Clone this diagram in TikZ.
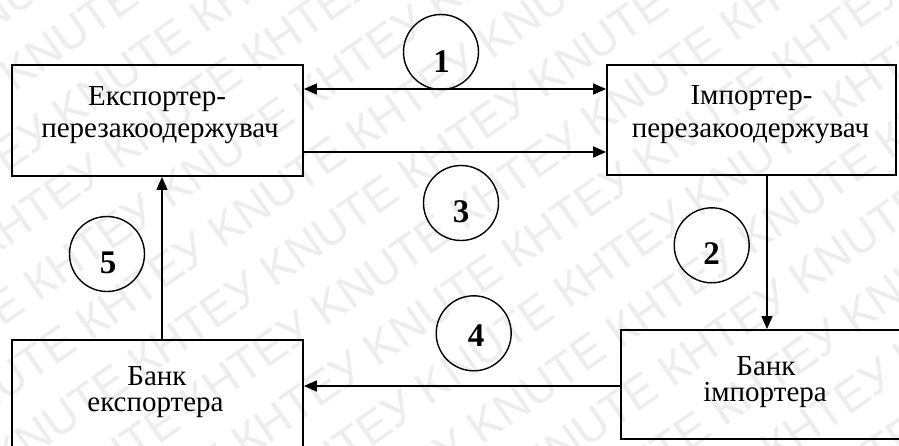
\documentclass[tikz,border=0pt]{standalone}
\usepackage{fontspec}
\setmainfont{Liberation Serif}
\newfontfamily\wmfont{Liberation Sans}
\usetikzlibrary{arrows.meta,calc}
\begin{document}
\begin{tikzpicture}[x=1pt,y=-1pt,
  box/.style={draw,line width=1.8pt,inner sep=0pt,rectangle},
  lbl/.style={anchor=base,inner sep=0pt,font=\fontsize{29}{32}\selectfont},
  num/.style={circle,draw,line width=1.4pt,minimum size=75pt,inner sep=0pt},
  numtxt/.style={anchor=base,inner sep=0pt,font=\fontsize{33}{34}\selectfont\bfseries},
  conn/.style={line width=1.4pt},
  tip/.style={-{Triangle[length=13pt,width=11pt]}},
  tiptwo/.style={{Triangle[length=13pt,width=11pt]}-{Triangle[length=13pt,width=11pt]}},
  wm/.style={rotate=35,anchor=center,inner sep=0pt,text=black!7,font=\wmfont\fontsize{46}{50}\selectfont}]
\useasboundingbox (0,0) rectangle (899,445);
\fill[white] (0,0) rectangle (899,445);
\begin{scope}
\clip (0,0) rectangle (899,445);
\foreach \k in {-7,...,7} {
  \node[wm] (wm\k) at ({450+\k*62*0.574+\k*20*0.819},{222+\k*62*0.819-\k*20*0.574}) {КНТЕУ KNUTE КНТЕУ KNUTE КНТЕУ KNUTE КНТЕУ KNUTE};
}
\end{scope}
% boxes
\node[box,minimum width=291pt,minimum height=111pt] (tl) at (157.5,120.5) {};
\node[box,minimum width=289pt,minimum height=110pt] (tr) at (751.5,120) {};
\node[box,minimum width=291pt,minimum height=110pt] (bl) at (157.5,395) {};
\node[box,minimum width=292pt,minimum height=109pt] (br) at (767,384.5) {};
% texts
\node[lbl] (tl1) at (157,105) {Експортер-};
\node[lbl] (tl2) at (160,137) {перезакоодержувач};
\node[lbl] (tr1) at (751.5,104) {Імпортер-};
\node[lbl] (tr2) at (750.5,137) {перезакоодержувач};
\node[lbl] (bl1) at (157,385) {Банк};
\node[lbl] (bl2) at (155.5,411) {експортера};
\node[lbl] (br1) at (766,375) {Банк};
\node[lbl] (br2) at (765,401) {імпортера};
% numbered circles
\node[num] (c1) at (441,52) {};
\node[numtxt] (n1) at (441.5,72) {1};
\node[num] (c3) at (461,203) {};
\node[numtxt] (n3) at (461,222.7) {3};
\node[num] (c5) at (107,254) {};
\node[numtxt] (n5) at (108,273) {5};
\node[num] (c2) at (711.7,245.3) {};
\node[numtxt] (n2) at (711.7,264) {2};
\node[num] (c4) at (473.7,333.3) {};
\node[numtxt] (n4) at (476,346.7) {4};
% connectors
\coordinate (a1) at ([yshift=31.5pt]tl.east);
\draw[conn,tiptwo] (a1) -- (a1 -| tr.west);
\coordinate (a3) at ([yshift=-31.5pt]tl.east);
\draw[conn,tip] (a3) -- (a3 -| tr.west);
\draw[conn,tip] (br.north |- tr.south) -- (br.north);
\coordinate (a4) at ([yshift=-1.5pt]br.west);
\draw[conn,tip] (a4) -- (a4 -| bl.east);
\coordinate (a5) at ([xshift=4.5pt]bl.north);
\draw[conn,tip] (a5) -- (a5 |- tl.south);
\end{tikzpicture}
\end{document}
